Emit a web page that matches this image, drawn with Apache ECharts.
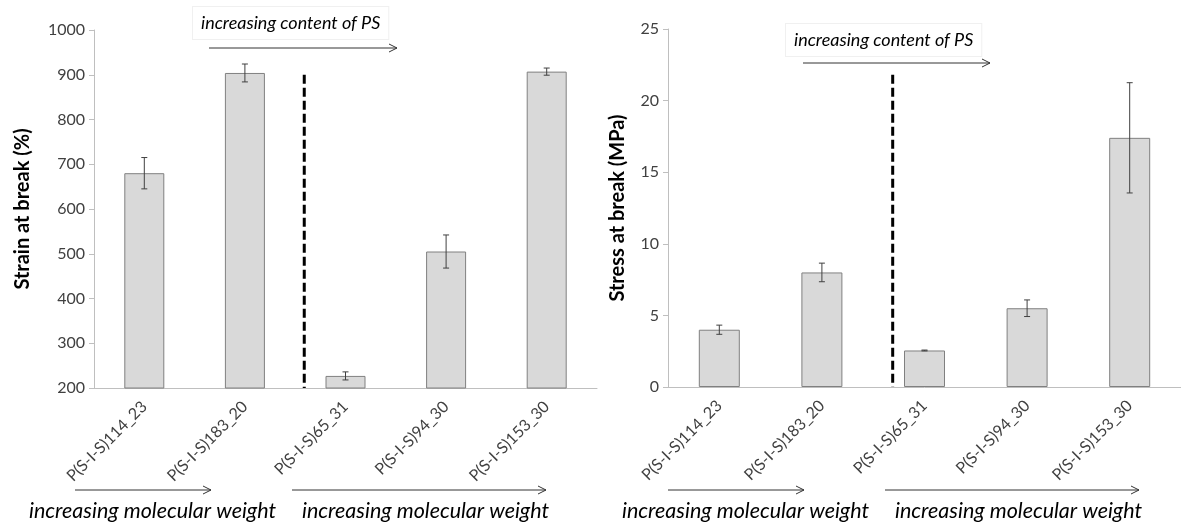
<!DOCTYPE html>
<html><head><meta charset="utf-8">
<script src="https://cdn.jsdelivr.net/npm/echarts@6/dist/echarts.min.js"></script>
<style>html,body{margin:0;padding:0;background:#fff}#c{width:1181px;height:522px}</style>
</head><body><div id="c"></div>
<script>
const categories = ['P(S-I-S)114_23','P(S-I-S)183_20','P(S-I-S)65_31','P(S-I-S)94_30','P(S-I-S)153_30'];
const strainValues = [680, 904, 227, 505, 907];
const strainErrors = [35, 20, 9, 37, 8];
const stressValues = [4.0, 8.0, 2.55, 5.5, 17.4];
const stressErrors = [0.32, 0.65, 0.03, 0.58, 3.85];
const strainTicks = {min: 200, max: 1000, interval: 100};
const stressTicks = {min: 0, max: 25, interval: 5};
const strainDivider = {pos: 2.09, top: 900};
const stressDivider = {pos: 2.19, top: 21.8};

const FONT = 'Lato, "Open Sans", sans-serif';
const axisGrey = '#bfbfbf';
const labelGrey = '#404040';

function errData(vals, errs){ return vals.map((v,i)=>[i, v-errs[i], v+errs[i]]); }
function errRender(params, api){
  const i = api.value(0), lo = api.value(1), hi = api.value(2);
  const p1 = api.coord([i, hi]), p2 = api.coord([i, lo]);
  const w = 3;
  const st = {stroke:'#404040', lineWidth:1};
  return {type:'group', children:[
    {type:'line', shape:{x1:p1[0],y1:p1[1],x2:p2[0],y2:p2[1]}, style:st},
    {type:'line', shape:{x1:p1[0]-w,y1:p1[1],x2:p1[0]+w,y2:p1[1]}, style:st},
    {type:'line', shape:{x1:p2[0]-w,y1:p2[1],x2:p2[0]+w,y2:p2[1]}, style:st}
  ]};
}
function dividerRender(ymin){
  return function(params, api){
    const pos = api.value(0), top = api.value(1);
    const c0 = api.coord([0, top]);
    const band = api.size([1, 0])[0];
    const x = c0[0] - band/2 + pos*band;
    const yb = api.coord([0, ymin])[1];
    return {type:'line', shape:{x1:x,y1:c0[1],x2:x,y2:yb},
      style:{stroke:'#000', lineWidth:3, lineDash:[9,4]}};
  };
}

function xAxisCfg(grid){
  return {type:'category', gridIndex:grid, data:categories,
    axisLine:{lineStyle:{color:axisGrey}},
    axisTick:{length:5, lineStyle:{color:axisGrey}},
    axisLabel:{rotate:45, margin:16, color:labelGrey, fontSize:16, fontFamily:FONT}};
}
function yAxisCfg(grid, t, name, gap){
  return {type:'value', gridIndex:grid, min:t.min, max:t.max, interval:t.interval,
    name:name, nameLocation:'middle', nameGap:gap,
    nameTextStyle:{fontSize:20, fontWeight:'bold', color:'#000', fontFamily:FONT},
    axisLine:{show:true, lineStyle:{color:axisGrey}},
    axisTick:{show:true, length:5, lineStyle:{color:axisGrey}},
    splitLine:{show:false},
    axisLabel:{color:labelGrey, fontSize:16, fontFamily:FONT, margin:9, formatter:(v)=>String(v)}};
}

function arrow(x1, x2, y, color){
  return {type:'group', children:[
    {type:'line', shape:{x1:x1,y1:y,x2:x2,y2:y}, style:{stroke:color, lineWidth:1}},
    {type:'polyline', shape:{points:[[x2-8,y-4],[x2,y],[x2-8,y+4]]}, style:{stroke:color, lineWidth:1, fill:null}}
  ]};
}
function label(text, x, y, size, box){
  const s = {text:text, x:x, y:y, font:'italic ' + size + 'px ' + FONT, fill:'#000', textAlign:'left', textVerticalAlign:'middle'};
  if(box){ s.backgroundColor='#fff'; s.borderColor='#f0f0f0'; s.borderWidth=1; s.padding=[8,8,6,8]; }
  return {type:'text', style:s, z:100};
}

const chart = echarts.init(document.getElementById('c'));
chart.setOption({
  animation:false,
  grid:[{left:94, top:30, width:503, height:358},{left:668, top:29, width:521, height:358}],
  xAxis:[xAxisCfg(0), xAxisCfg(1)],
  yAxis:[yAxisCfg(0, strainTicks, 'Strain at break (%)', 61), yAxisCfg(1, stressTicks, 'Stress at break (MPa)', 40)],
  series:[
    {type:'bar', xAxisIndex:0, yAxisIndex:0, data:strainValues, barWidth:40,
      itemStyle:{color:'#d9d9d9', borderColor:'#808080', borderWidth:1}},
    {type:'custom', xAxisIndex:0, yAxisIndex:0, data:errData(strainValues, strainErrors), renderItem:errRender, z:5},
    {type:'custom', xAxisIndex:0, yAxisIndex:0, data:[[strainDivider.pos, strainDivider.top]], renderItem:dividerRender(strainTicks.min), z:6},
    {type:'bar', xAxisIndex:1, yAxisIndex:1, data:stressValues, barWidth:41,
      itemStyle:{color:'#d9d9d9', borderColor:'#808080', borderWidth:1}},
    {type:'custom', xAxisIndex:1, yAxisIndex:1, data:errData(stressValues, stressErrors), renderItem:errRender, z:5},
    {type:'custom', xAxisIndex:1, yAxisIndex:1, data:[[stressDivider.pos, stressDivider.top]], renderItem:dividerRender(stressTicks.min), z:6}
  ],
  graphic:[
    label('increasing content of PS', 193, 23, 18, true),
    arrow(209, 397, 48, '#333'),
    label('increasing content of PS', 786, 40, 18, true),
    arrow(803, 990, 63, '#333'),
    arrow(75, 211, 490, '#333'),
    arrow(292, 546, 490, '#333'),
    label('increasing molecular weight', 29, 511, 21.5, false),
    label('increasing molecular weight', 302, 511, 21.5, false),
    arrow(668, 804, 490, '#333'),
    arrow(885, 1139, 490, '#333'),
    label('increasing molecular weight', 622, 511, 21.5, false),
    label('increasing molecular weight', 895, 511, 21.5, false)
  ]
});
</script></body></html>
